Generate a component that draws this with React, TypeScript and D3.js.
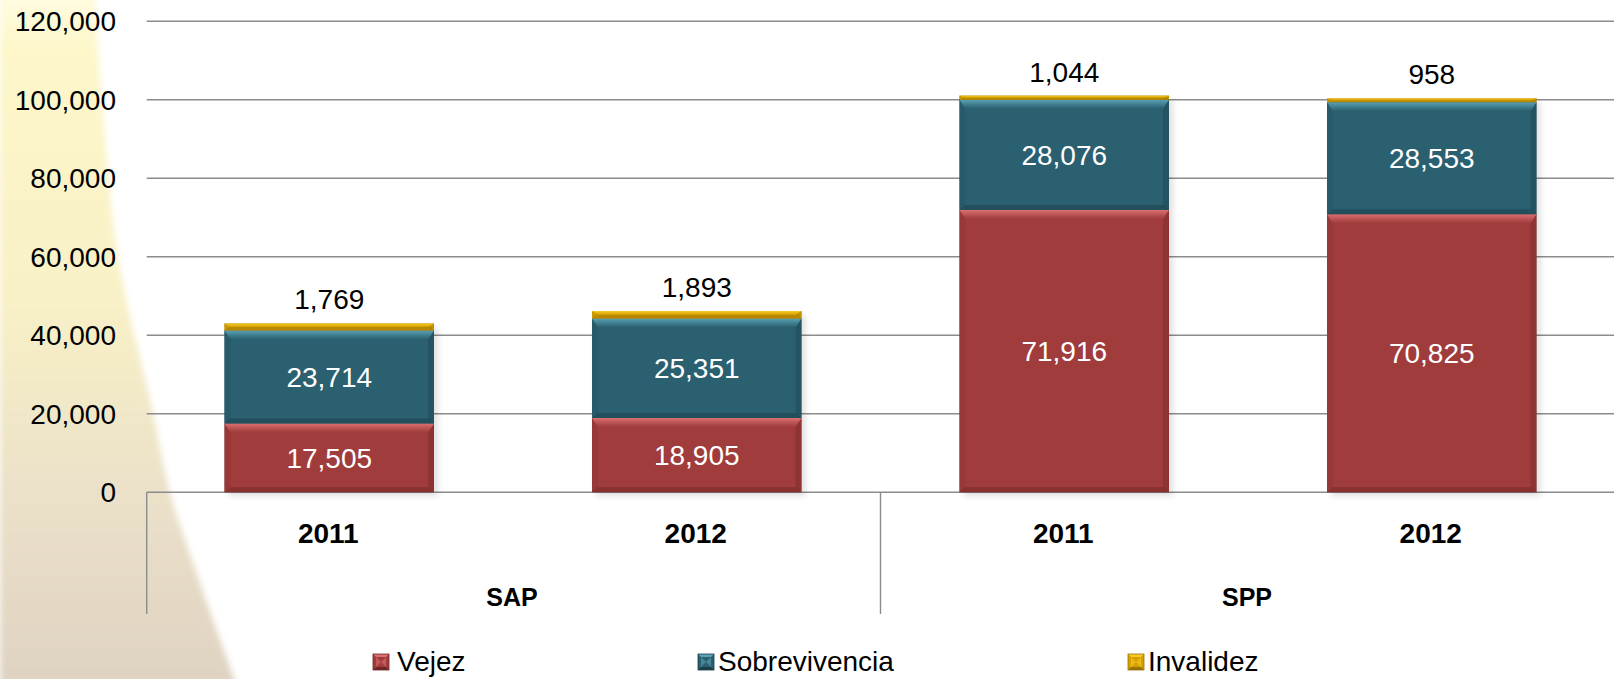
import React from "react";
import * as d3 from "d3";

const W = 1614;
const H = 679;

const categories = ["2011", "2012", "2011", "2012"];
const groups = ["SAP", "SAP", "SPP", "SPP"];
const groupNames = ["SAP", "SPP"];
const vejez = [17505, 18905, 71916, 70825];
const sobrevivencia = [23714, 25351, 28076, 28553];
const invalidez = [1769, 1893, 1044, 958];
const yTicks = [0, 20000, 40000, 60000, 80000, 100000, 120000];

const seriesKeys = ["Vejez", "Sobrevivencia", "Invalidez"];
const seriesColors: Record<string, { base: string; light: string; dark: string; side: string }> = {
  Vejez: { base: "#A03C3C", light: "#DC7070", dark: "#6E2626", side: "#923636" },
  Sobrevivencia: { base: "#2A6070", light: "#5AA2B4", dark: "#1B3E49", side: "#265866" },
  Invalidez: { base: "#D6A000", light: "#F6CC2A", dark: "#9A7200", side: "#C49400" },
};

const FONT = "'Liberation Sans', Arial, sans-serif";

const rows = categories.map((c, i) => ({
  idx: i,
  cat: c,
  group: groups[i],
  Vejez: vejez[i],
  Sobrevivencia: sobrevivencia[i],
  Invalidez: invalidez[i],
}));

const x = d3
  .scaleBand<number>()
  .domain(rows.map((r) => r.idx))
  .range([145.5, 1615.5])
  .paddingInner(0.43)
  .paddingOuter(0.215);

const step = x.step();
const y = d3.scaleLinear().domain([0, 120000]).range([492.2, 21.2]);

const stacked = d3.stack<any>().keys(seriesKeys)(rows as any);
const fmt = d3.format(",");

const axisLeftX = 146.7;
const axisBottom = 614;

function Segment({ x0, y0, w, h, key_ }: { x0: number; y0: number; w: number; h: number; key_: string }) {
  const c = seriesColors[key_];
  const b = Math.min(9, h / 2, w / 2);
  const bb = Math.min(5, h / 2);
  const sb = Math.min(6, w / 2);
  const pts = (a: number[][]) => a.map((p) => p.join(",")).join(" ");
  return (
    <g>
      <rect x={x0} y={y0} width={w} height={h} fill={c.base} />
      <polygon
        points={pts([
          [x0, y0 + h],
          [x0 + bb, y0 + h - bb],
          [x0 + w - bb, y0 + h - bb],
          [x0 + w, y0 + h],
        ])}
        fill={c.dark}
        opacity={0.5}
      />
      <polygon
        points={pts([
          [x0, y0],
          [x0 + sb, y0 + b],
          [x0 + sb, y0 + h - bb],
          [x0, y0 + h],
        ])}
        fill={c.side}
        opacity={0.6}
      />
      <polygon
        points={pts([
          [x0 + w, y0],
          [x0 + w - sb, y0 + b],
          [x0 + w - sb, y0 + h - bb],
          [x0 + w, y0 + h],
        ])}
        fill={c.dark}
        opacity={0.35}
      />
      <polygon
        points={pts([
          [x0, y0],
          [x0 + w, y0],
          [x0 + w - sb, y0 + b],
          [x0 + sb, y0 + b],
        ])}
        fill={`url(#top-${key_})`}
      />
    </g>
  );
}

function LegendMarker({ x0, y0, s, key_ }: { x0: number; y0: number; s: number; key_: string }) {
  const c = seriesColors[key_];
  const cx = x0 + s / 2;
  const cy = y0 + s / 2;
  const b = 3;
  return (
    <g>
      <rect x={x0} y={y0} width={s} height={s} fill={c.base} />
      <polygon points={`${x0},${y0} ${x0 + s},${y0} ${x0 + s - b},${y0 + b} ${x0 + b},${y0 + b}`} fill={c.light} />
      <polygon points={`${x0},${y0 + s} ${x0 + s},${y0 + s} ${x0 + s - b},${y0 + s - b} ${x0 + b},${y0 + s - b}`} fill={c.dark} />
      <polygon points={`${x0 + b},${y0 + b} ${cx},${cy} ${x0 + b},${y0 + s - b}`} fill={c.light} opacity={0.6} />
      <polygon points={`${x0 + s - b},${y0 + b} ${cx},${cy} ${x0 + s - b},${y0 + s - b}`} fill={c.light} opacity={0.6} />
      <rect x={x0} y={y0} width={s} height={s} fill="none" stroke={c.dark} strokeWidth={0.8} />
    </g>
  );
}

const bgEdge: [number, number][] = [
  [95, -5],
  [102, 100],
  [118, 257],
  [153, 413],
  [170, 493],
  [193, 563],
  [236, 684],
];

export default function App() {
  const edgeLine = d3.line().curve(d3.curveCatmullRom)(bgEdge) || "";
  const bgPath = `M0,-5 L${edgeLine.slice(1)} L0,684 Z`;

  const legendItems = [
    { key: "Vejez", mx: 373, tx: 397 },
    { key: "Sobrevivencia", mx: 698, tx: 718 },
    { key: "Invalidez", mx: 1128, tx: 1148 },
  ];

  return (
    <svg
      width={W}
      height={H}
      viewBox={`0 0 ${W} ${H}`}
      style={{ position: "absolute", left: 0, top: 0, background: "#ffffff" }}
    >
      <defs>
        <linearGradient id="bgGrad" x1="0" y1="0" x2="0" y2="1">
          <stop offset="0" stopColor="#FFFBE0" />
          <stop offset="0.08" stopColor="#FDF7CA" />
          <stop offset="0.45" stopColor="#F8F0C6" />
          <stop offset="0.7" stopColor="#ECE2C9" />
          <stop offset="1" stopColor="#DFD2C2" />
        </linearGradient>
        <filter id="bgBlur" x="-20%" y="-5%" width="140%" height="110%">
          <feGaussianBlur stdDeviation="3" />
        </filter>
        <filter id="barShadow" x="-10%" y="-10%" width="130%" height="130%">
          <feDropShadow dx="4" dy="4" stdDeviation="3" floodColor="#000" floodOpacity="0.35" />
        </filter>
        {seriesKeys.map((k) => (
          <linearGradient key={k} id={`top-${k}`} x1="0" y1="0" x2="0" y2="1">
            <stop offset="0" stopColor={seriesColors[k].light} />
            <stop offset="1" stopColor={seriesColors[k].base} stopOpacity={0.9} />
          </linearGradient>
        ))}
      </defs>

      <rect x={0} y={0} width={W} height={H} fill="#ffffff" />
      <path d={bgPath} fill="url(#bgGrad)" filter="url(#bgBlur)" />

      {/* gridlines */}
      {yTicks.map((t) => (
        <line
          key={`g${t}`}
          x1={axisLeftX}
          x2={W}
          y1={y(t)}
          y2={y(t)}
          stroke="#8C8C8C"
          strokeWidth={1.4}
        />
      ))}

      {/* y tick labels */}
      {yTicks.map((t) => (
        <text
          key={`t${t}`}
          x={116}
          y={y(t) + 10}
          textAnchor="end"
          fontFamily={FONT}
          fontSize={28}
          fill="#000"
        >
          {fmt(t)}
        </text>
      ))}

      {/* category axis lines */}
      <line x1={axisLeftX} x2={axisLeftX} y1={y(0)} y2={axisBottom} stroke="#8C8C8C" strokeWidth={1.4} />
      {groupNames.map((g) => {
        const idxs = rows.filter((r) => r.group === g).map((r) => r.idx);
        const right = (x(idxs[idxs.length - 1]) as number) - (step * x.paddingInner()) / 2 + step;
        return (
          <line key={`sep${g}`} x1={right} x2={right} y1={y(0)} y2={axisBottom} stroke="#8C8C8C" strokeWidth={1.4} />
        );
      })}

      {/* bars */}
      {rows.map((r) => {
        const bx = x(r.idx) as number;
        const bw = x.bandwidth();
        const topV = stacked[stacked.length - 1][r.idx][1];
        return (
          <g key={`bar${r.idx}`}>
            <rect
              x={bx}
              y={y(topV)}
              width={bw}
              height={y(0) - y(topV)}
              fill="#000"
              opacity={0.35}
              filter="url(#barShadow)"
            />
            {stacked.map((s) => {
              const d = s[r.idx];
              const y0 = y(d[1]);
              const h = y(d[0]) - y(d[1]);
              return <Segment key={s.key} x0={bx} y0={y0} w={bw} h={h} key_={s.key} />;
            })}
          </g>
        );
      })}

      {/* data labels */}
      {rows.map((r) => {
        const cx = (x(r.idx) as number) + x.bandwidth() / 2;
        return (
          <g key={`lab${r.idx}`} fontFamily={FONT} fontSize={28} textAnchor="middle">
            {stacked.map((s) => {
              const d = s[r.idx];
              if (s.key === "Invalidez") {
                return (
                  <text key={s.key} x={cx} y={y(d[1]) - 14} fill="#000">
                    {fmt(d[1] - d[0])}
                  </text>
                );
              }
              const my = (y(d[0]) + y(d[1])) / 2;
              return (
                <text key={s.key} x={cx} y={my + 10} fill="#fff">
                  {fmt(d[1] - d[0])}
                </text>
              );
            })}
          </g>
        );
      })}

      {/* category labels */}
      {rows.map((r) => (
        <text
          key={`cat${r.idx}`}
          x={(x(r.idx) as number) + x.bandwidth() / 2 - 1}
          y={543}
          textAnchor="middle"
          fontFamily={FONT}
          fontWeight="bold"
          fontSize={28}
          fill="#000"
        >
          {r.cat}
        </text>
      ))}

      {groupNames.map((g) => {
        const idxs = rows.filter((r) => r.group === g).map((r) => r.idx);
        const cxs = idxs.map((i) => (x(i) as number) + x.bandwidth() / 2);
        const cx = d3.mean(cxs) as number;
        return (
          <text
            key={`grp${g}`}
            x={cx - 1}
            y={606}
            textAnchor="middle"
            fontFamily={FONT}
            fontWeight="bold"
            fontSize={25}
            fill="#000"
          >
            {g}
          </text>
        );
      })}

      {/* legend */}
      {legendItems.map((it) => (
        <g key={`leg${it.key}`}>
          <LegendMarker x0={it.mx} y0={654} s={16} key_={it.key} />
          <text x={it.tx} y={671} fontFamily={FONT} fontSize={28} fill="#000">
            {it.key}
          </text>
        </g>
      ))}
    </svg>
  );
}
